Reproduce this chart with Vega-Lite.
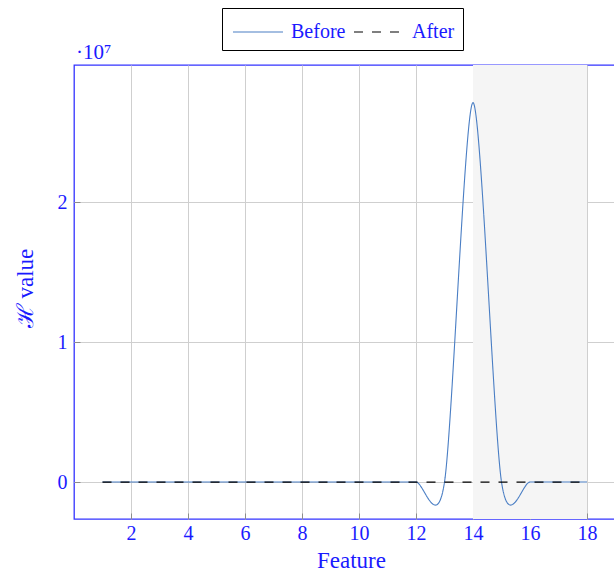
{
  "$schema": "https://vega.github.io/schema/vega-lite/v6.json",
  "width": 541,
  "height": 454,
  "autosize": {"type": "none"},
  "padding": {"left": 74, "top": 65, "right": 0, "bottom": 54},
  "background": "white",
  "config": {
    "view": {"stroke": "#3333ff", "strokeWidth": 1.3},
    "font": "Liberation Serif"
  },
  "title": {
    "text": "·10⁷",
    "anchor": "start",
    "frame": "group",
    "baseline": "alphabetic",
    "offset": 7,
    "dx": 2,
    "dy": 79,
    "fontSize": 21,
    "fontWeight": "normal",
    "color": "#1a1aff",
    "font": "Liberation Serif"
  },
  "datasets": {
    "band": [{"feature": 14, "feature_end": 18}],
    "series": [
      {"feature": 1, "value": 0, "series": "Before"},
      {"feature": 2, "value": 0, "series": "Before"},
      {"feature": 3, "value": 0, "series": "Before"},
      {"feature": 4, "value": 0, "series": "Before"},
      {"feature": 5, "value": 0, "series": "Before"},
      {"feature": 6, "value": 0, "series": "Before"},
      {"feature": 7, "value": 0, "series": "Before"},
      {"feature": 8, "value": 0, "series": "Before"},
      {"feature": 9, "value": 0, "series": "Before"},
      {"feature": 10, "value": 0, "series": "Before"},
      {"feature": 11, "value": 0, "series": "Before"},
      {"feature": 12, "value": 0, "series": "Before"},
      {"feature": 13, "value": 0, "series": "Before"},
      {"feature": 14, "value": 27100000, "series": "Before"},
      {"feature": 15, "value": 0, "series": "Before"},
      {"feature": 16, "value": 0, "series": "Before"},
      {"feature": 17, "value": 0, "series": "Before"},
      {"feature": 18, "value": 0, "series": "Before"},
      {"feature": 1, "value": 0, "series": "After"},
      {"feature": 2, "value": 0, "series": "After"},
      {"feature": 3, "value": 0, "series": "After"},
      {"feature": 4, "value": 0, "series": "After"},
      {"feature": 5, "value": 0, "series": "After"},
      {"feature": 6, "value": 0, "series": "After"},
      {"feature": 7, "value": 0, "series": "After"},
      {"feature": 8, "value": 0, "series": "After"},
      {"feature": 9, "value": 0, "series": "After"},
      {"feature": 10, "value": 0, "series": "After"},
      {"feature": 11, "value": 0, "series": "After"},
      {"feature": 12, "value": 0, "series": "After"},
      {"feature": 13, "value": 0, "series": "After"},
      {"feature": 14, "value": 0, "series": "After"},
      {"feature": 15, "value": 0, "series": "After"},
      {"feature": 16, "value": 0, "series": "After"},
      {"feature": 17, "value": 0, "series": "After"},
      {"feature": 18, "value": 0, "series": "After"}
    ]
  },
  "encoding": {
    "x": {"field": "feature", "type": "quantitative", "scale": {"domain": [0, 18.982], "nice": false, "zero": false},
      "axis": {
        "orient": "bottom",
        "values": [2, 4, 6, 8, 10, 12, 14, 16, 18],
        "grid": true, "gridColor": "#cfcfcf", "gridWidth": 1,
        "domain": false,
        "ticks": true, "tickSize": -6, "tickColor": "#8c8c8c", "tickWidth": 1,
        "labelColor": "#1a1aff", "labelFontSize": 20, "labelFont": "Liberation Serif",
        "labelPadding": 10,
        "title": "Feature", "titleColor": "#1a1aff", "titleFontSize": 23, "titleFont": "Liberation Serif",
        "titleFontWeight": "normal", "titleX": 277, "titleY": 48, "titleBaseline": "alphabetic",
        "labelFlush": false
      }
    }
  },
  "layer": [
    {
      "data": {"name": "band"},
      "mark": {"type": "rect", "color": "#f5f5f5"},
      "encoding": {
        "x2": {"field": "feature_end"}
      }
    },
    {
      "data": {"name": "series"},
      "transform": [{"filter": "datum.series === 'Before'"}],
      "mark": {"type": "line", "interpolate": "cardinal", "tension": 0.18, "strokeWidth": 1.1},
      "encoding": {
        "y": {"field": "value", "type": "quantitative",
          "scale": {"domain": [-2640000, 29790000], "nice": false, "zero": false},
          "axis": {
            "values": [0, 10000000, 20000000],
            "labelExpr": "format(datum.value / 10000000, 'd')",
            "grid": true, "gridColor": "#cfcfcf", "gridWidth": 1,
            "domain": false,
            "ticks": true, "tickSize": -6, "tickColor": "#8c8c8c", "tickWidth": 1,
            "labelColor": "#1a1aff", "labelFontSize": 20, "labelFont": "Liberation Serif",
            "labelPadding": 13,
            "title": "ℋ value", "titleColor": "#1a1aff", "titleFontSize": 23, "titleFont": "Liberation Serif",
            "titleFontWeight": "normal", "titleX": -49, "titleY": 223, "titleAngle": -90,
            "titleAlign": "center", "titleBaseline": "middle"
          }
        },
        "color": {"field": "series", "type": "nominal",
          "scale": {"domain": ["Before", "After"], "range": ["#4a7ec4", "#000000"]},
          "legend": {
            "orient": "none", "legendX": 148, "legendY": -57,
            "direction": "horizontal", "title": null,
            "symbolType": "M-1.667,0H1.667", "symbolSize": 900, "symbolStrokeWidth": 1.2,
            "symbolOffset": 12,
            "labelColor": "#1a1aff", "labelFontSize": 20, "labelFont": "Liberation Serif",
            "labelOffset": 17, "columnPadding": 5,
            "strokeColor": "black", "padding": 8
          }
        },
        "strokeDash": {"field": "series", "type": "nominal",
          "scale": {"domain": ["Before", "After"], "range": [[1, 0], [9, 9]]},
          "legend": {
            "orient": "none", "legendX": 148, "legendY": -57,
            "direction": "horizontal", "title": null,
            "symbolType": "M-1.667,0H1.667", "symbolSize": 900, "symbolStrokeWidth": 1.2,
            "symbolOffset": 12,
            "labelColor": "#1a1aff", "labelFontSize": 20, "labelFont": "Liberation Serif",
            "labelOffset": 17, "columnPadding": 5,
            "strokeColor": "black", "padding": 8
          }
        }
      }
    },
    {
      "data": {"name": "series"},
      "transform": [{"filter": "datum.series === 'After'"}],
      "mark": {"type": "line", "strokeWidth": 1.2},
      "encoding": {
        "y": {"field": "value", "type": "quantitative",
          "axis": {
            "values": [0, 10000000, 20000000],
            "labelExpr": "format(datum.value / 10000000, 'd')",
            "grid": true, "gridColor": "#cfcfcf", "gridWidth": 1,
            "domain": false,
            "ticks": true, "tickSize": -6, "tickColor": "#8c8c8c", "tickWidth": 1,
            "labelColor": "#1a1aff", "labelFontSize": 20, "labelFont": "Liberation Serif",
            "labelPadding": 13,
            "title": "ℋ value", "titleColor": "#1a1aff", "titleFontSize": 23, "titleFont": "Liberation Serif",
            "titleFontWeight": "normal", "titleX": -49, "titleY": 223, "titleAngle": -90,
            "titleAlign": "center", "titleBaseline": "middle"
          }
        },
        "color": {"field": "series", "type": "nominal"},
        "strokeDash": {"field": "series", "type": "nominal"}
      }
    }
  ]
}
